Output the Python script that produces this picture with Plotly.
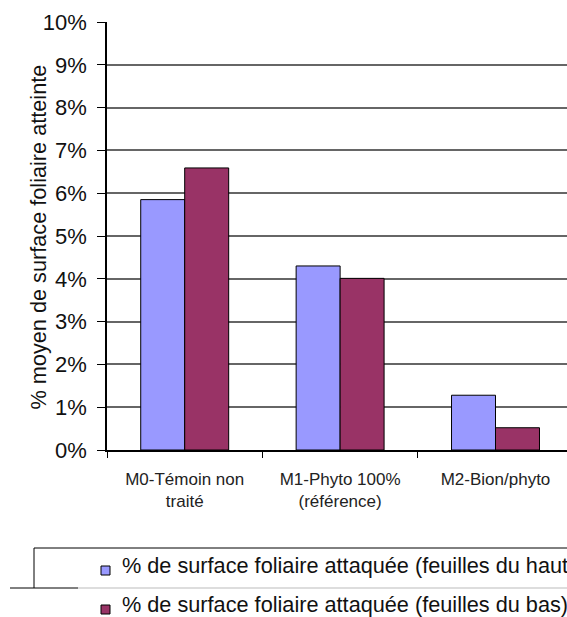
import plotly.graph_objects as go

categories = ["M0-Témoin non<br>traité", "M1-Phyto 100%<br>(référence)", "M2-Bion/phyto"]
haut_values = [0.0585, 0.0430, 0.0128]
bas_values = [0.0659, 0.0401, 0.0052]
series_names = ["% de surface foliaire attaquée (feuilles du haut)",
                "% de surface foliaire attaquée (feuilles du bas)"]
series_colors = ["#9999FF", "#993366"]
y_title = "% moyen de surface foliaire atteinte"

FONT = "Liberation Sans, Arial, sans-serif"
L, R, T, B = 107, 0, 22, 167
W, H = 567, 617
PW, PH = W - L - R, H - T - B


def px(x):
    return (x - L) / PW


def py(y):
    return (H - B - y) / PH


fig = go.Figure()
for name, vals, col in zip(series_names, [haut_values, bas_values], series_colors):
    fig.add_trace(go.Bar(x=categories, y=vals, name=name, marker_color=col,
                         marker_line_color="#000000", marker_line_width=1,
                         showlegend=False))

fig.update_layout(
    width=W, height=H,
    margin=dict(l=L, r=R, t=T, b=B, autoexpand=False),
    paper_bgcolor="white", plot_bgcolor="white",
    barmode="group", bargap=0.434, bargroupgap=0,
    font=dict(family=FONT, color="#111111"),
    xaxis=dict(range=[-0.5, 2.46], showline=True, linecolor="#000000", linewidth=1.5,
               ticks="outside", ticklen=6, tickcolor="#000000", tickson="boundaries",
               showgrid=False, automargin=False,
               tickfont=dict(size=17, family=FONT, color="#222222"),
               ticklabelstandoff=13, fixedrange=True),
    yaxis=dict(range=[0, 0.1], dtick=0.01, tickformat=".0%", showline=True,
               linecolor="#000000", linewidth=1.5, ticks="outside", ticklen=8,
               tickcolor="#000000", showgrid=True, gridcolor="#666666", gridwidth=1.5,
               zeroline=False, automargin=False,
               tickfont=dict(size=22, family=FONT, color="#111111"),
               ticklabelstandoff=6, fixedrange=True),
)

fig.add_annotation(x=px(24), y=py(237), xref="paper", yref="paper", text=y_title,
                   textangle=-90, showarrow=False,
                   font=dict(size=21.7, family=FONT, color="#111111"))

# manual legend box (cropped in the reference)
fig.add_shape(type="line", xref="paper", yref="paper",
              x0=px(34), x1=px(34), y0=py(548), y1=py(588),
              line=dict(color="#000000", width=1))
fig.add_shape(type="line", xref="paper", yref="paper",
              x0=px(34), x1=1.0, y0=py(548), y1=py(548),
              line=dict(color="#000000", width=1))
fig.add_shape(type="line", xref="paper", yref="paper",
              x0=px(10), x1=px(78), y0=py(588), y1=py(588),
              line=dict(color="#000000", width=1))
fig.add_shape(type="line", xref="paper", yref="paper",
              x0=px(78), x1=1.0, y0=py(588), y1=py(588),
              line=dict(color="#BBBBBB", width=1))

legend_rows_y = [566, 605]
for name, col, ry in zip(series_names, series_colors, legend_rows_y):
    fig.add_shape(type="rect", xref="paper", yref="paper",
                  x0=px(101), x1=px(110),
                  y0=py(ry), y1=py(ry + 9),
                  fillcolor=col, line=dict(color="#000000", width=1))
    fig.add_annotation(x=px(120), y=py(ry - 1), xref="paper", yref="paper",
                       text=name, showarrow=False, xanchor="left", yanchor="middle",
                       font=dict(size=21.7, family=FONT, color="#111111"))

fig.write_html("out.html", config={"displayModeBar": False},
               post_script="document.body.style.margin='0';document.body.style.overflow='hidden';")
